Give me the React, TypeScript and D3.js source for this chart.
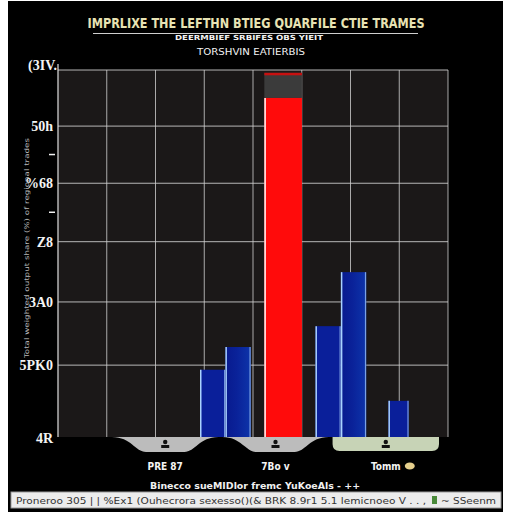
import React from "react";
import * as d3 from "d3";

// ---- data ----
const groups = ["Q1", "Q2", "Q3", "Q4"];
const seriesLow: (number | null)[] = [9.3, null, 16.1, 4.7];
const seriesHigh: (number | null)[] = [12.8, 55.0, 24.9, null];
const highlightGroup = "Q2";
const highlightTarget = 59.5;

const yTickValues = [0, 10, 20, 30, 40, 50, 60];
const yTickLabels = ["4R", "5PK0", "3A0", "Z8", "%68", "50h", "(3IV."];
const yMinorTicks = [35, 45];

const tabCategories = ["PRE 87", "7Bo v", "Tomm"];

const titleText = "IMPRLIXE THE LEFTHN BTIEG QUARFILE CTIE TRAMES";
const subtitle1 = "DEERMBIEF SRBIFES OBS YIEIT";
const subtitle2 = "TORSHVIN EATIERBIS";
const yAxisTitle = "Total weighted output share (%) of regional trades";
const captionText = "Binecco sueMIDlor fremc YuKoeAls -  ++";
const footerLeft = "Proneroo  305  | |  %Ex1  (Ouhecrora sexesso()(& BRK 8.9r1 5.1 lemicnoeo V  . .  ,";
const footerRight = "~ SSeenm";

export default function App() {
  const W = 512, H = 512;
  const plot = { left: 58, right: 448, top: 70, bottom: 437 };

  const y = d3.scalePow().exponent(0.91).domain([0, 60]).range([plot.bottom, plot.top]);
  const xGrid = d3.scaleLinear().domain([0, 8]).range([plot.left, plot.right]);
  const xGroup = d3.scaleBand<string>().domain(groups).range([200, 424]).paddingInner(0.12);
  const xTab = d3.scaleBand<string>().domain(tabCategories).range([112, 439]).paddingInner(0.035);

  const singleWidth: Record<string, number> = { Q2: 0.74, Q4: 0.4 };

  type Bar = { g: string; key: string; v: number; x: number; w: number };
  const bars: Bar[] = [];
  groups.forEach((g, i) => {
    const present: [string, number][] = [];
    if (seriesLow[i] != null) present.push(["low", seriesLow[i] as number]);
    if (seriesHigh[i] != null) present.push(["high", seriesHigh[i] as number]);
    const x0 = xGroup(g) as number;
    const bw = xGroup.bandwidth();
    if (present.length === 2) {
      const sub = d3.scaleBand<string>().domain(present.map((p) => p[0])).range([0, bw]);
      present.forEach(([k, v]) => bars.push({ g, key: k, v, x: x0 + (sub(k) as number), w: sub.bandwidth() }));
    } else if (present.length === 1) {
      const w = bw * (singleWidth[g] ?? 0.5);
      bars.push({ g, key: present[0][0], v: present[0][1], x: x0 + (bw - w) / 2, w });
    }
  });

  const hGrid = yTickValues.slice(1);
  const vGrid = d3.range(1, 9);

  const tabPath = (x0: number, x1: number) => {
    const w = x1 - x0;
    const t = plot.bottom, b = plot.bottom + 15;
    return `M${x0},${t} C${x0 + w * 0.18},${t} ${x0 + w * 0.22},${b} ${x0 + w * 0.32},${b} L${x1 - w * 0.32},${b} C${x1 - w * 0.22},${b} ${x1 - w * 0.18},${t} ${x1},${t} Z`;
  };
  const roundTab = (x0: number, x1: number) => {
    const t = plot.bottom, b = plot.bottom + 14, r = 7;
    return `M${x0},${t} L${x1},${t} L${x1},${b - r} Q${x1},${b} ${x1 - r},${b} L${x0 + r},${b} Q${x0},${b} ${x0},${b - r} Z`;
  };

  return (
    <>
      <style>{`body{margin:0;background:#fff}`}</style>
      <svg width={W} height={H} style={{ display: "block" }}>
        <defs>
          <linearGradient id="hiGrad" x1="0" x2="1" y1="0" y2="0">
            <stop offset="0" stopColor="#081a8e" />
            <stop offset="0.45" stopColor="#0a2299" />
            <stop offset="1" stopColor="#0d34aa" />
          </linearGradient>
        </defs>
        <rect x={0} y={0} width={W} height={H} fill="#ffffff" />
        <rect x={8} y={1} width={495} height={511} fill="#000" />

        {/* title */}
        <text x={256} y={28} textAnchor="middle" fill="#e8e3b4" fontFamily="DejaVu Sans Condensed, DejaVu Sans" fontWeight="bold" fontSize={14}
          textLength={337} lengthAdjust="spacingAndGlyphs">{titleText}</text>
        <line x1={93} x2={418} y1={33.5} y2={33.5} stroke="#cfcfcf" strokeWidth={1} />
        <text x={249} y={40} textAnchor="middle" fill="#f2f2f2" fontFamily="DejaVu Sans" fontWeight="bold" fontSize={7}
          textLength={148} lengthAdjust="spacingAndGlyphs">{subtitle1}</text>
        <text x={251} y={55} textAnchor="middle" fill="#f2f2f2" fontFamily="DejaVu Sans" fontSize={8.5}
          textLength={108} lengthAdjust="spacingAndGlyphs">{subtitle2}</text>

        {/* plot background */}
        <rect x={plot.left} y={plot.top} width={plot.right - plot.left} height={plot.bottom - plot.top} fill="#1b1818" />

        {/* grid */}
        {hGrid.map((v) => (
          <line key={"h" + v} x1={plot.left} x2={plot.right} y1={y(v)} y2={y(v)} stroke="#d4d4d4" strokeOpacity={0.85} strokeWidth={1} />
        ))}
        {vGrid.map((i) => (
          <line key={"v" + i} x1={xGrid(i)} x2={xGrid(i)} y1={plot.top} y2={plot.bottom} stroke="#cfcfcf" strokeOpacity={0.8} strokeWidth={1} />
        ))}

        {/* bars */}
        {bars.map((b, i) => {
          const isHi = b.g === highlightGroup;
          const top = y(b.v);
          const fill = isHi ? "#ff0b0b" : b.key === "high" ? "url(#hiGrad)" : "#0a1f9a";
          const edge = isHi ? "#ffffff" : "#a9d2ff";
          return (
            <g key={i}>
              {isHi && (
                <>
                  <rect x={b.x} y={y(highlightTarget)} width={b.w} height={top - y(highlightTarget)} fill="#3b3b3b" />
                  <rect x={b.x} y={y(highlightTarget)} width={b.w} height={2.5} fill="#c81010" />
                </>
              )}
              <rect x={b.x} y={top} width={b.w} height={plot.bottom - top} fill={fill} />
              <line x1={b.x + 0.75} x2={b.x + 0.75} y1={top} y2={plot.bottom} stroke={edge} strokeWidth={1.5} />
              {!isHi && (
                <line x1={b.x + b.w - 0.75} x2={b.x + b.w - 0.75} y1={top} y2={plot.bottom} stroke={edge} strokeOpacity={0.7} strokeWidth={1.2} />
              )}
            </g>
          );
        })}

        {/* left axis */}
        <line x1={plot.left} x2={plot.left} y1={plot.top - 6} y2={plot.bottom} stroke="#e0e0e0" strokeWidth={1.2} />
        {yTickValues.map((v, i) => (
          <text key={"t" + v} x={i === yTickValues.length - 1 ? 57 : 53} y={y(v) + (i === 0 ? 6 : i === yTickValues.length - 1 ? 0 : 5)}
            textAnchor="end" fill="#f4f4f4" fontFamily="Liberation Serif" fontWeight="bold" fontSize={14}>
            {yTickLabels[i]}
          </text>
        ))}
        {yMinorTicks.map((v) => (
          <line key={"m" + v} x1={49} x2={55} y1={y(v)} y2={y(v)} stroke="#f0f0f0" strokeWidth={1.5} />
        ))}
        <text transform={`translate(29,${248}) rotate(-90)`} textAnchor="middle" fill="#b8b8b8" fontFamily="DejaVu Sans"
          fontSize={6.5} textLength={220} lengthAdjust="spacingAndGlyphs">{yAxisTitle}</text>

        {/* category tabs */}
        {tabCategories.map((c, i) => {
          const x0 = xTab(c) as number;
          const x1 = x0 + xTab.bandwidth();
          const cx = (x0 + x1) / 2;
          return (
            <g key={c}>
              <path d={i === 2 ? roundTab(x0, x1) : tabPath(x0, x1)} fill={i === 2 ? "#c7d3b6" : "#bcbcbc"} />
              <circle cx={cx} cy={442} r={2.2} fill="#111" />
              <rect x={cx - 4} y={445} width={8} height={3} fill="#111" />
              <text x={cx} y={470} textAnchor="middle" fill="#f4f4f4" fontFamily="DejaVu Sans Condensed, DejaVu Sans" fontWeight="bold" fontSize={10}>{c}</text>
            </g>
          );
        })}
        <ellipse cx={(xTab("Tomm") as number) + xTab.bandwidth() / 2 + 24} cy={466} rx={5} ry={3.5} fill="#e6cf8c" />

        {/* caption */}
        <text x={255} y={489} textAnchor="middle" fill="#f0f0f0" fontFamily="DejaVu Sans" fontWeight="bold" fontSize={8.5}
          textLength={210} lengthAdjust="spacingAndGlyphs">{captionText}</text>

        {/* footer bar */}
        <rect x={11} y={492} width={490} height={16} fill="#ececec" stroke="#9a9a9a" strokeWidth={1} />
        <text x={16} y={503.5} fill="#333" fontFamily="DejaVu Sans" fontSize={8.5} textLength={410} lengthAdjust="spacingAndGlyphs">{footerLeft}</text>
        <rect x={432} y={496} width={5} height={8} fill="#4a8a3a" />
        <text x={441} y={503.5} fill="#333" fontFamily="DejaVu Sans" fontSize={8.5} textLength={55} lengthAdjust="spacingAndGlyphs">{footerRight}</text>
      </svg>
    </>
  );
}
